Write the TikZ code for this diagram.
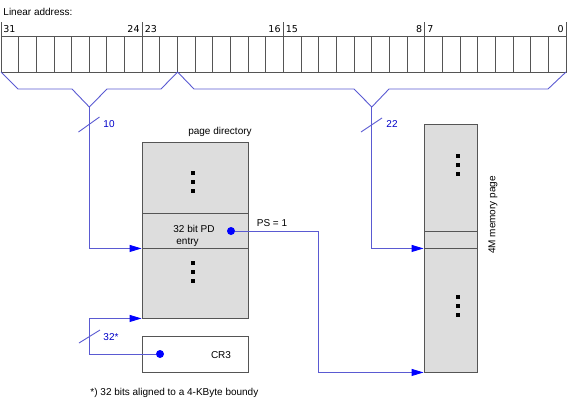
\documentclass[tikz,border=0pt]{standalone}
\usepackage{fontspec}
\setmainfont{Liberation Sans}
\newfontfamily\numfont{DejaVu Sans}
\usepackage{tikz}
\usetikzlibrary{arrows.meta,calc}
\definecolor{wire}{HTML}{5A5AD2}
\definecolor{tipblue}{HTML}{0000FF}
\definecolor{lblue}{HTML}{0000C8}
\definecolor{boxgray}{HTML}{DDDDDD}
\definecolor{edge}{HTML}{555555}

\begin{document}
\begin{tikzpicture}[x=1pt,y=-1pt,line width=0.9pt,
  font=\fontsize{10}{12}\selectfont,
  box/.style={draw=edge,fill=boxgray,inner sep=0pt},
  conn/.style={wire,-{Triangle[length=12pt,width=7pt,color=tipblue]}},
  wirelbl/.style={lblue,anchor=west,inner sep=0pt},
  bitno/.style={font=\numfont\fontsize{9.5}{10}\selectfont,inner sep=0pt}]
  \useasboundingbox (0,0) rectangle (567,405);
  \node[anchor=west,inner sep=0pt] (title) at (3,12) {Linear address:};
  \foreach \i in {0,...,31}
    \draw[edge] (1+\i*17.656,36) rectangle ++(17.656,36);
  \foreach \x in {1,142.25,283.5,424.75,566}
    \draw[edge] (\x,22) -- (\x,36);
  \node[bitno,anchor=west] (b31) at (3,29) {31};
  \node[bitno,anchor=east] (b24) at (140,29) {24};
  \node[bitno,anchor=west] (b23) at (144.5,29) {23};
  \node[bitno,anchor=east] (b16) at (281,29) {16};
  \node[bitno,anchor=west] (b15) at (285.5,29) {15};
  \node[bitno,anchor=east] (b8) at (422.5,29) {8};
  \node[bitno,anchor=west] (b7) at (427,29) {7};
  \node[bitno,anchor=east] (b0) at (564,29) {0};
  \coordinate (tipA) at (89.3,107);
  \coordinate (tipB) at (371.8,107);
  \draw[wire] (1,72) -- (18,89) -- (72,89) -- (tipA) -- (107,89) -- (161,89) -- (177.6,72);
  \draw[wire] (177.6,72) -- (194,89) -- (354,89) -- (tipB) -- (389,89) -- (548,89) -- (566,72);

  \node[box,minimum width=106pt,minimum height=176pt] (pd) at (195,230) {};
  \node[box,minimum width=106pt,minimum height=35pt] (pde) at (195,230.5) {};
  \node[inner sep=0pt,anchor=south] (pdtitle) at (220,137) {page directory};
  \node[inner sep=0pt,align=left] (pdtext) at (194,236) {32 bit PD\\\hspace*{3pt}entry};
  \foreach \y in {173,182,191,263,272,281}
    \fill (193,\y) +(-1.6,-1.6) rectangle +(1.6,1.6);
  \node[circle,fill=tipblue,minimum size=8pt,inner sep=0pt] (dotpd) at (231,231) {};

  \node[box,minimum width=53pt,minimum height=248pt] (mem) at (450.5,248) {};
  \node[box,minimum width=53pt,minimum height=17pt] (mement) at (450.5,239.5) {};
  \foreach \y in {156,165,174,297,306,315}
    \fill (458,\y) +(-1.6,-1.6) rectangle +(1.6,1.6);
  \node[rotate=90,inner sep=0pt] (memlbl) at (493,215) {4M memory page};

  \node[draw=edge,minimum width=106pt,minimum height=36pt,inner sep=0pt] (cr3) at (195,354) {};
  \node[inner sep=0pt] (cr3lbl) at (221,355) {CR3};
  \node[circle,fill=tipblue,minimum size=8pt,inner sep=0pt] (dotcr) at (160,354) {};

  \draw[conn] (tipA) |- (pde.south west);
  \draw[wire] (78.5,132) -- (99.5,117);
  \node[wirelbl] (w10) at (103,124) {10};
  \draw[conn] (tipB) |- (mement.south west);
  \draw[wire] (361,132) -- (382,118);
  \node[wirelbl] (w22) at (386,124) {22};
  \draw[conn] (dotpd) -- (318,231) |- (mem.south west);
  \node[inner sep=0pt] (ps) at (272,223) {PS = 1};
  \draw[conn] (dotcr) -- (89.3,354) |- (pd.south west);
  \draw[wire] (79,343) -- (100,330);
  \node[wirelbl] (w32) at (103,337) {32*};

  \node[anchor=west,inner sep=0pt] (note) at (90,393) {*) 32 bits aligned to a 4-KByte boundy};
\end{tikzpicture}
\end{document}
